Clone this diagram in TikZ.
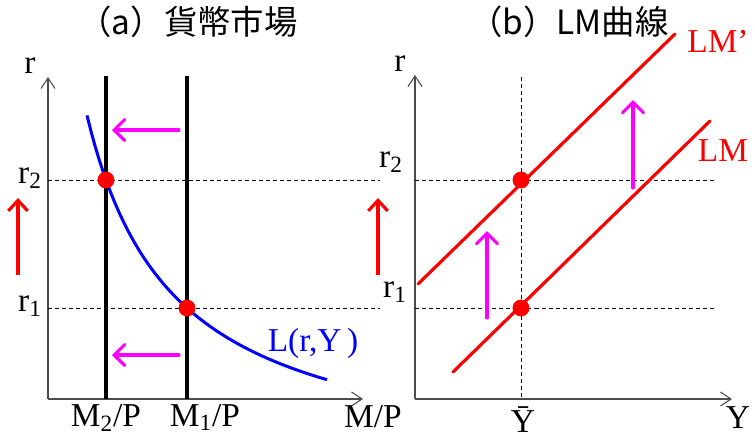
\documentclass[tikz,border=0pt]{standalone}
\usepackage{fontspec}
\setmainfont{Liberation Serif}
\newfontfamily\jpfont{Noto Sans CJK JP}
\usetikzlibrary{arrows.meta}
\definecolor{shiftpink}{RGB}{255,0,255}
\newcommand{\rlev}[1]{r\textsubscript{#1}}

\begin{document}
\begin{tikzpicture}[x=0.02cm,y=-0.02cm,font=\fontsize{19}{22}\selectfont,
  axis/.style={draw=black!70,line width=0.6pt,-{Straight Barb[length=6pt,width=8pt]}},
  guide/.style={line width=0.5pt,dash pattern=on 2.3pt off 1.7pt},
  supply/.style={line width=2.3pt},
  lmline/.style={red,line width=1.8pt,line cap=round},
  move/.style={shiftpink,line width=1.8pt,line cap=round,-{Straight Barb[length=6pt,width=12pt,line cap=round]}},
  rise/.style={red,line width=1.8pt,-{Straight Barb[length=6pt,width=11pt]}},
  eq/.style={circle,fill=red,inner sep=0pt,minimum size=9.6pt},
  ticklbl/.style={anchor=base,inner sep=0pt}]
\useasboundingbox (0,0) rectangle (755,437);
% titles
\node (ta) at (188,22) {\jpfont （a）貨幣市場};
\node (tb) at (569,22) {\jpfont （b）LM曲線};
% (a) money market
\coordinate (oa) at (48,399); \coordinate (ya) at (48,77); \coordinate (xa) at (363,399);
\draw[axis] (oa) -- (ya);
\draw[axis] (oa) -- (xa);
\node (ra) at (30,66) {r};
\node[ticklbl] (ma) at (373,427) {M/P};
\coordinate (s2) at (106,76); \coordinate (s1) at (187,76);
\draw[guide] (48,180) coordinate (g2) -- (380,180);
\draw[guide] (48,308) coordinate (g1) -- (380,308);
\draw[supply] (s2) -- (106,399);
\draw[supply] (s1) -- (187,399);
\node[ticklbl] (m2) at (106,426) {M\textsubscript{2}/P};
\node[ticklbl] (m1) at (205,426) {M\textsubscript{1}/P};
\draw[blue,line width=1.7pt] plot[domain=87:327,samples=60] (\x,{475.5-313.27/(\x/100)});
\node[blue] (lr) at (313,343) {L(r,Y\,)};
\node (r2a) at (30,178) {\rlev{2}};
\node (r1a) at (30,306) {\rlev{1}};
\coordinate (ua0) at (18,275); \coordinate (ua1) at (18,198);
\draw[rise] (ua0) -- (ua1);
\coordinate (pa0) at (179,130); \coordinate (pa1) at (112,130);
\coordinate (qa0) at (179,355); \coordinate (qa1) at (112,355);
\draw[move] (pa0) -- (pa1);
\draw[move] (qa0) -- (qa1);
\node[eq] (ea2) at (106,180) {};
\node[eq] (ea1) at (187,308) {};
% (b) LM curve
\coordinate (ob) at (415,399); \coordinate (yb) at (415,75); \coordinate (xb) at (732,399);
\draw[axis] (ob) -- (yb);
\draw[axis] (ob) -- (xb);
\node (rb) at (400,64) {r};
\node[ticklbl] (yl) at (738,428) {Y};
\node[ticklbl] (ybar) at (523,432) {Ȳ};
\draw[guide] (521,77) -- (521,399);
\draw[guide] (415,180) -- (715,180);
\draw[guide] (415,308) -- (715,308);
\coordinate (lm0) at (453,372); \coordinate (lm1) at (710,121);
\coordinate (lp0) at (418,284); \coordinate (lp1) at (675,34);
\draw[lmline] (lm0) -- (lm1);
\draw[lmline] (lp0) -- (lp1);
\node[red] (lmt) at (723,151) {LM};
\node[red] (lpt) at (718,41) {LM’};
\node (r2b) at (391,162) {\rlev{2}};
\node (r1b) at (395,292) {\rlev{1}};
\coordinate (ub0) at (378,275); \coordinate (ub1) at (378,198);
\draw[rise] (ub0) -- (ub1);
\coordinate (pb0) at (487,318); \coordinate (pb1) at (487,231);
\coordinate (qb0) at (633,188); \coordinate (qb1) at (633,100);
\draw[move] (pb0) -- (pb1);
\draw[move] (qb0) -- (qb1);
\node[eq] (eb2) at (521,180) {};
\node[eq] (eb1) at (521,308) {};
\end{tikzpicture}
\end{document}
